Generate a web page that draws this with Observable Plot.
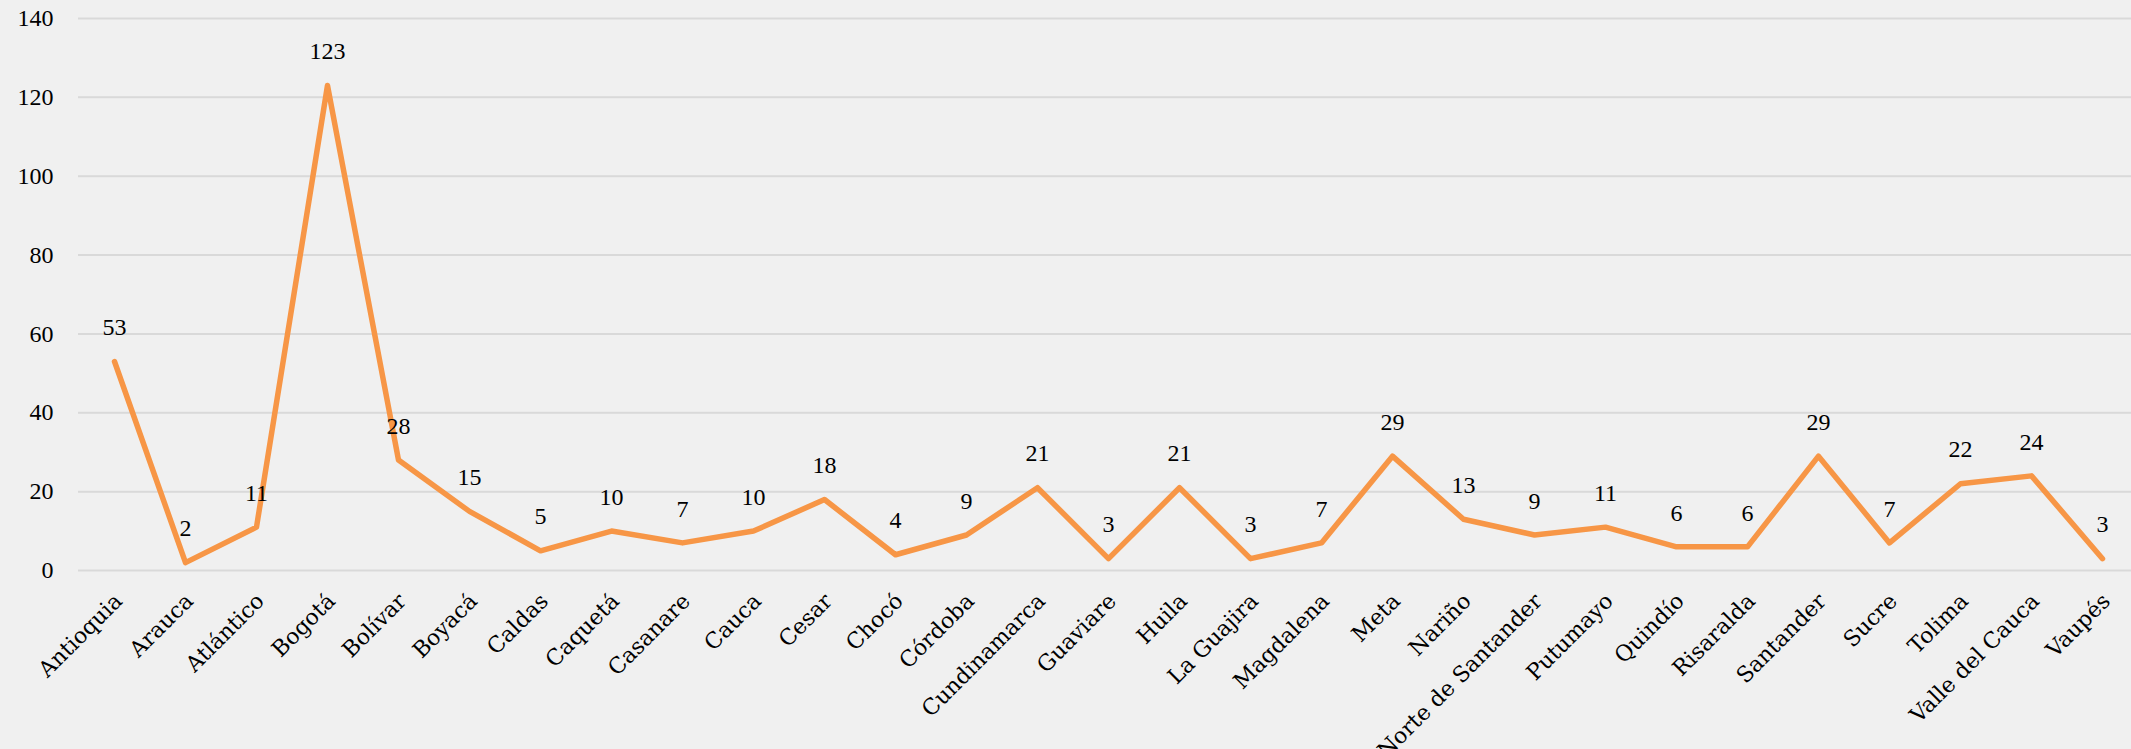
<!DOCTYPE html>
<html>
<head>
<meta charset="utf-8">
<script src="https://cdn.jsdelivr.net/npm/d3@7"></script>
<script src="https://cdn.jsdelivr.net/npm/@observablehq/plot@0.6"></script>
<style>
  html, body { margin: 0; padding: 0; background: #F0F0F0; }
  #chart svg { display: block; background: #F0F0F0; }
</style>
</head>
<body>
<div id="chart"></div>
<script>
const categories = ["Antioquia","Arauca","Atlántico","Bogotá","Bolívar","Boyacá","Caldas","Caquetá","Casanare","Cauca","Cesar","Chocó","Córdoba","Cundinamarca","Guaviare","Huila","La Guajira","Magdalena","Meta","Nariño","Norte de Santander","Putumayo","Quindío","Risaralda","Santander","Sucre","Tolima","Valle del Cauca","Vaupés"];
const values = [53,2,11,123,28,15,5,10,7,10,18,4,9,21,3,21,3,7,29,13,9,11,6,6,29,7,22,24,3];
const yTicks = [0,20,40,60,80,100,120,140];

const data = categories.map((c, i) => ({category: c, value: values[i]}));

const chart = Plot.plot({
  width: 2131,
  height: 749,
  marginLeft: 78,
  marginRight: 0,
  marginTop: 18,
  marginBottom: 179,
  style: {background: "#F0F0F0", fontFamily: "'Liberation Serif', serif"},
  x: {type: "point", domain: categories, range: [113, 2102], padding: 0, axis: null},
  y: {domain: [0, 140], axis: null},
  marks: [
    Plot.ruleY(yTicks, {stroke: "#D9D9D9", strokeWidth: 2}),
    Plot.axisY({ticks: yTicks, tickSize: 0, tickPadding: 25, fontSize: 24, fill: "#000", fontFamily: "'Liberation Serif', serif", label: null}),
    Plot.line(data, {x: "category", y: "value", stroke: "#F79646", strokeWidth: 5.5, strokeLinejoin: "round", strokeLinecap: "round"}),
    Plot.text(data, {x: "category", y: "value", text: d => String(d.value), dy: -34, lineAnchor: "middle", fontSize: 24, fill: "#000", fontFamily: "'Liberation Serif', serif"}),
    Plot.text(data, {x: "category", y: () => 0, text: "category", rotate: -45, textAnchor: "end", lineAnchor: "middle", dx: 4, dy: 27, fontSize: 22, fill: "#000", fontFamily: "'DejaVu Serif', serif"})
  ]
});
document.getElementById("chart").appendChild(chart);
</script>
</body>
</html>
